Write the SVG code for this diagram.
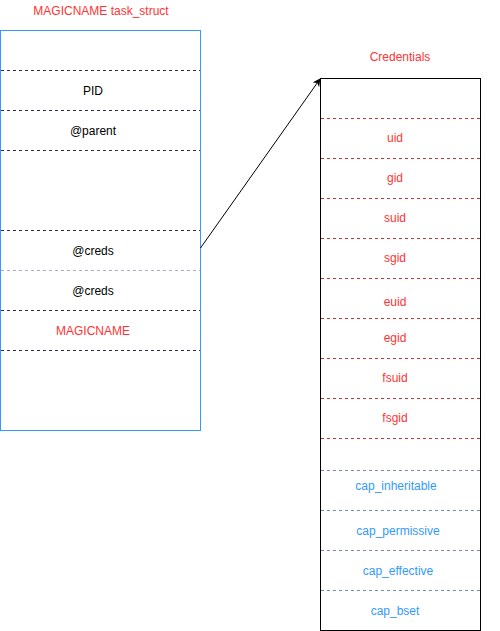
<svg xmlns="http://www.w3.org/2000/svg" width="500" height="631" viewBox="0 0 500 631">
<defs>
<style>
text{font-family:"Liberation Sans",Arial,sans-serif;font-size:12px;text-anchor:middle;dominant-baseline:central}
.k{fill:#000}.r{fill:#FF3333}.b{fill:#3399FF}
.dl{stroke:#33264D;stroke-dasharray:3 3;stroke-width:1}
.dg{stroke:#B3A8C2;stroke-dasharray:3 3;stroke-width:1}
.dr{stroke:#CC3333;stroke-dasharray:3 3;stroke-width:1}
.db{stroke:#6C8EBF;stroke-dasharray:3 3;stroke-width:1}
</style>
<marker id="ah" viewBox="0 0 10 10" refX="9" refY="5" markerWidth="8" markerHeight="8" orient="auto" markerUnits="userSpaceOnUse">
<path d="M0,0 L10,5 L0,10 L3,5 z" fill="#000"/>
</marker>
</defs>
<rect width="500" height="631" fill="#fff"/>
<g id="task_struct">
<text class="r" x="101" y="11">MAGICNAME task_struct</text>
<rect x="0.5" y="30.5" width="200" height="400" fill="#fff" stroke="#3399FF"/>
<line class="dl" x1="1" y1="70.5" x2="200" y2="70.5"/>
<line class="dl" x1="1" y1="110.5" x2="200" y2="110.5"/>
<line class="dl" x1="1" y1="150.5" x2="200" y2="150.5"/>
<line class="dl" x1="1" y1="230.5" x2="200" y2="230.5"/>
<line class="dg" x1="1" y1="270.5" x2="200" y2="270.5"/>
<line class="dl" x1="1" y1="310.5" x2="200" y2="310.5"/>
<line class="dl" x1="1" y1="350.5" x2="200" y2="350.5"/>
<text class="k" x="93" y="91">PID</text>
<text class="k" x="93" y="131">@parent</text>
<text class="k" x="93" y="251">@creds</text>
<text class="k" x="93" y="291">@creds</text>
<text class="r" x="93" y="331">MAGICNAME</text>
</g>
<g id="credentials">
<text class="r" x="400" y="57">Credentials</text>
<rect x="320.5" y="78.5" width="160" height="552" fill="#fff" stroke="#000"/>
<line class="dr" x1="321" y1="118.5" x2="480" y2="118.5"/>
<line class="dr" x1="321" y1="158.5" x2="480" y2="158.5"/>
<line class="dr" x1="321" y1="198.5" x2="480" y2="198.5"/>
<line class="dr" x1="321" y1="238.5" x2="480" y2="238.5"/>
<line class="dr" x1="321" y1="278.5" x2="480" y2="278.5"/>
<line class="dr" x1="321" y1="318.5" x2="480" y2="318.5"/>
<line class="dr" x1="321" y1="358.5" x2="480" y2="358.5"/>
<line class="dr" x1="321" y1="398.5" x2="480" y2="398.5"/>
<line class="dr" x1="321" y1="438.5" x2="480" y2="438.5"/>
<line class="db" x1="321" y1="470.5" x2="480" y2="470.5"/>
<line class="db" x1="321" y1="510.5" x2="480" y2="510.5"/>
<line class="db" x1="321" y1="550.5" x2="480" y2="550.5"/>
<line class="db" x1="321" y1="590.5" x2="480" y2="590.5"/>
<text class="r" x="395" y="138">uid</text>
<text class="r" x="395" y="178">gid</text>
<text class="r" x="395" y="218">suid</text>
<text class="r" x="395" y="258">sgid</text>
<text class="r" x="395" y="302">euid</text>
<text class="r" x="395" y="338">egid</text>
<text class="r" x="395" y="378">fsuid</text>
<text class="r" x="395" y="418">fsgid</text>
<text class="b" x="396" y="486">cap_inheritable</text>
<text class="b" x="398" y="531">cap_permissive</text>
<text class="b" x="398" y="571">cap_effective</text>
<text class="b" x="395" y="611">cap_bset</text>
</g>
<g id="connectors">
<line x1="200.5" y1="248" x2="320" y2="79" stroke="#000" stroke-width="1" marker-end="url(#ah)"/>
</g>
</svg>
